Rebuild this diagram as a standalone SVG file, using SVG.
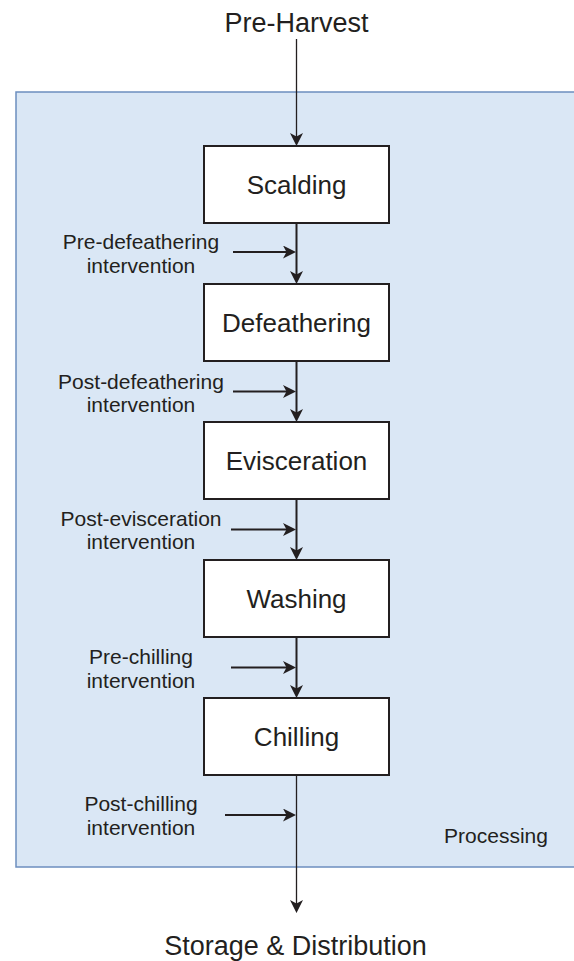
<svg xmlns="http://www.w3.org/2000/svg" width="574" height="961" viewBox="0 0 574 961">
<style>
text{font-family:"Liberation Sans",Arial,Helvetica,sans-serif;fill:#231f20;text-anchor:middle}
.big{font-size:27px}
.box{font-size:26px}
.sm{font-size:21px}
.node rect{fill:#ffffff;stroke:#231f20;stroke-width:2}
.thin{stroke:#231f20;stroke-width:1.3;fill:none}
.thick{stroke:#231f20;stroke-width:2;fill:none}
</style>
<defs>
<marker id="ah" markerUnits="userSpaceOnUse" markerWidth="13" markerHeight="13" refX="4" refY="6.5" orient="auto" viewBox="0 0 13 13">
<path d="M0,0 L13,6.5 L0,13 L3.5,6.5 z" fill="#231f20"/>
</marker>
</defs>
<g id="processing">
<rect x="16" y="92" width="570" height="775" fill="#dae7f5" stroke="#6c8ebf" stroke-width="1.5"/>
<text class="sm" x="496" y="843">Processing</text>
</g>
<g id="pre-harvest"><text class="big" x="296.5" y="32">Pre-Harvest</text></g>
<g id="storage"><text class="big" x="295.5" y="955">Storage &amp; Distribution</text></g>
<g id="scalding" class="node"><rect x="204" y="146" width="185" height="77"/><text class="box" x="296.5" y="194">Scalding</text></g>
<g id="defeathering" class="node"><rect x="204" y="284" width="185" height="77"/><text class="box" x="296.5" y="332">Defeathering</text></g>
<g id="evisceration" class="node"><rect x="204" y="422" width="185" height="77"/><text class="box" x="296.5" y="470">Evisceration</text></g>
<g id="washing" class="node"><rect x="204" y="560" width="185" height="77"/><text class="box" x="296.5" y="608">Washing</text></g>
<g id="chilling" class="node"><rect x="204" y="698" width="185" height="77"/><text class="box" x="296.5" y="746">Chilling</text></g>
<g id="labels">
<text class="sm" x="141" y="249">Pre-defeathering</text><text class="sm" x="141" y="272.5">intervention</text>
<text class="sm" x="141" y="389">Post-defeathering</text><text class="sm" x="141" y="411.5">intervention</text>
<text class="sm" x="141" y="526">Post-evisceration</text><text class="sm" x="141" y="549">intervention</text>
<text class="sm" x="141" y="664">Pre-chilling</text><text class="sm" x="141" y="688">intervention</text>
<text class="sm" x="141" y="811">Post-chilling</text><text class="sm" x="141" y="835">intervention</text>
</g>
<g id="connectors">
<path class="thin" d="M296.5,39 V137" marker-end="url(#ah)"/>
<path class="thick" d="M296.5,223 V275" marker-end="url(#ah)"/>
<path class="thick" d="M296.5,361 V413" marker-end="url(#ah)"/>
<path class="thick" d="M296.5,499 V551" marker-end="url(#ah)"/>
<path class="thick" d="M296.5,637 V689" marker-end="url(#ah)"/>
<path class="thin" d="M296.5,775 V904" marker-end="url(#ah)"/>
<path class="thick" d="M233,252 H287" marker-end="url(#ah)"/>
<path class="thick" d="M233,391.5 H287" marker-end="url(#ah)"/>
<path class="thick" d="M231,529.5 H287" marker-end="url(#ah)"/>
<path class="thick" d="M231,667.5 H287" marker-end="url(#ah)"/>
<path class="thick" d="M225,815 H287" marker-end="url(#ah)"/>
</g>
</svg>
